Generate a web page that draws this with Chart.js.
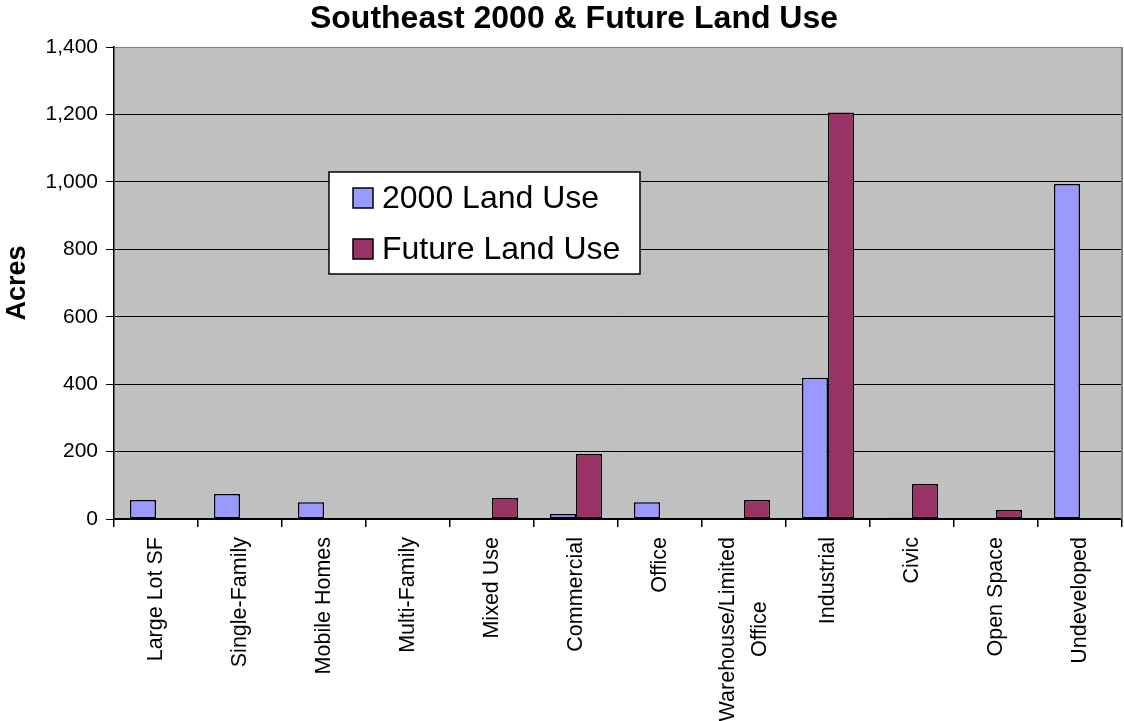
<!DOCTYPE html>
<html><head><meta charset="utf-8">
<script src="https://cdn.jsdelivr.net/npm/chart.js@4/dist/chart.umd.min.js"></script>
<style>html,body{margin:0;padding:0;background:#fff;overflow:hidden}canvas{display:block}</style>
</head><body>
<canvas id="c" width="1124" height="721"></canvas>
<script>
const categories = ['Large Lot SF', 'Single-Family', 'Mobile Homes', 'Multi-Family', 'Mixed Use', 'Commercial', 'Office', ['Warehouse/Limited', 'Office'], 'Industrial', 'Civic', 'Open Space', 'Undeveloped'];
const landUse2000 = [56, 74, 50, 0, 0, 15, 50, 0, 419, 4, 0, 994];
const futureLandUse = [0, 0, 0, 0, 62, 193, 0, 56, 1206, 104, 27, 0];
const seriesNames = ['2000 Land Use', 'Future Land Use'];
const yTicks = [0, 200, 400, 600, 800, 1000, 1200, 1400];

const FONT = '"Liberation Sans", Arial, Helvetica, sans-serif';
const colors = ['#9999FF', '#993366'];

const bgPlugin = {
  id: 'bg',
  beforeDraw(chart) {
    const {ctx, chartArea: ca} = chart;
    ctx.save();
    ctx.fillStyle = '#fff';
    ctx.fillRect(0, 0, chart.width, chart.height);
    ctx.fillStyle = '#C0C0C0';
    ctx.fillRect(ca.left, ca.top, ca.right - ca.left, ca.bottom - ca.top);
    ctx.restore();
  },
  beforeDatasetsDraw(chart) {
    const {ctx, chartArea: ca} = chart;
    ctx.save();
    ctx.strokeStyle = '#808080';
    ctx.lineWidth = 2;
    ctx.beginPath();
    ctx.moveTo(ca.right, ca.top);
    ctx.lineTo(ca.right, ca.bottom);
    ctx.stroke();
    ctx.restore();
  }
};

const labelsPlugin = {
  id: 'xlabels',
  afterDraw(chart) {
    const ctx = chart.ctx, xs = chart.scales.x;
    const top = chart.chartArea.bottom + 18;
    ctx.save();
    ctx.font = '21.5px ' + FONT;
    ctx.fillStyle = '#000';
    ctx.textBaseline = 'middle';
    ctx.textAlign = 'center';
    categories.forEach((lab, i) => {
      const lines = Array.isArray(lab) ? lab : [lab];
      const x = xs.getPixelForValue(i);
      const maxW = Math.max(...lines.map(l => ctx.measureText(l).width));
      ctx.save();
      ctx.translate(x, top);
      ctx.rotate(-Math.PI / 2);
      lines.forEach((l, j) => {
        ctx.fillText(l, -maxW / 2, (j - (lines.length - 1) / 2) * 32);
      });
      ctx.restore();
    });
    ctx.restore();
  }
};

const legendPlugin = {
  id: 'boxlegend',
  afterDraw(chart) {
    const {ctx, chartArea: ca} = chart;
    const bx = ca.left + 215, by = ca.top + 125, bw = 311, bh = 102;
    ctx.save();
    ctx.fillStyle = '#fff';
    ctx.fillRect(bx, by, bw, bh);
    ctx.lineWidth = 1.5;
    ctx.strokeStyle = '#000';
    ctx.strokeRect(bx, by, bw, bh);
    ctx.font = '32px ' + FONT;
    ctx.textBaseline = 'middle';
    ctx.textAlign = 'left';
    chart.data.datasets.forEach((ds, j) => {
      const y = by + 26 + j * 51;
      ctx.fillStyle = ds.backgroundColor;
      ctx.fillRect(bx + 24, y - 10, 20, 20);
      ctx.strokeStyle = '#000';
      ctx.lineWidth = 1.5;
      ctx.strokeRect(bx + 24, y - 10, 20, 20);
      ctx.fillStyle = '#000';
      ctx.fillText(ds.label, bx + 53, y + 1);
    });
    ctx.restore();
  }
};

new Chart(document.getElementById('c'), {
  type: 'bar',
  data: {
    labels: categories,
    datasets: [
      {label: seriesNames[0], data: landUse2000, backgroundColor: colors[0]},
      {label: seriesNames[1], data: futureLandUse, backgroundColor: colors[1]}
    ]
  },
  options: {
    responsive: false,
    animation: false,
    devicePixelRatio: 1,
    locale: 'en-US',
    layout: {padding: {left: 26, right: 2, top: 0, bottom: 0}},
    datasets: {
      bar: {
        barPercentage: 1,
        categoryPercentage: 0.62,
        borderColor: '#000',
        borderWidth: 1.5,
        borderSkipped: false
      }
    },
    plugins: {
      legend: {display: false},
      tooltip: {enabled: false},
      title: {
        display: true,
        text: 'Southeast 2000 & Future Land Use',
        color: '#000',
        font: {family: FONT, size: 32, weight: 'bold'},
        padding: {top: 0, bottom: 8.6}
      }
    },
    scales: {
      x: {
        type: 'category',
        offset: true,
        grid: {display: true, drawOnChartArea: false, offset: true, tickLength: 8, color: '#000', lineWidth: 1.5},
        border: {display: true, color: '#000', width: 1.5},
        ticks: {display: false, autoSkip: false},
        afterFit(s) { s.height = 202; }
      },
      y: {
        min: 0,
        max: 1400,
        afterBuildTicks(s) { s.ticks = yTicks.map(v => ({value: v})); },
        grid: {
          color: c => (c.tick && c.tick.value === 1400) ? '#808080' : '#000',
          tickColor: '#000',
          lineWidth: 1,
          tickLength: 8
        },
        border: {display: true, color: '#000', width: 1.5},
        ticks: {
          color: '#000',
          padding: 8,
          font: {family: FONT, size: 21},
          callback: v => Number(v).toLocaleString('en-US')
        },
        title: {
          display: true,
          text: 'Acres',
          color: '#000',
          font: {family: FONT, size: 27, weight: 'bold'},
          padding: {top: -25, bottom: 0}
        },
        afterFit(s) { s.width = 88; }
      }
    }
  },
  plugins: [bgPlugin, labelsPlugin, legendPlugin]
});
</script>
</body></html>
